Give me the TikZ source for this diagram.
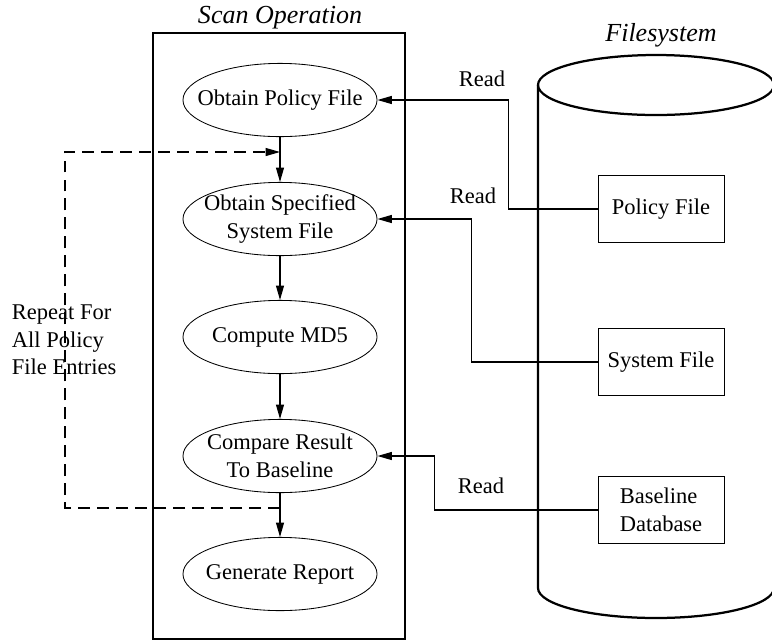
\documentclass[tikz,border=0pt]{standalone}
\usepackage{fontspec}
\setmainfont{Liberation Serif}
\usetikzlibrary{arrows.meta, shapes.geometric}
\pgfdeclarelayer{bg}
\pgfsetlayers{bg,main}
\tikzset{every picture/.append style={x=0.025cm, y=-0.025cm}}
\tikzset{
    proc/.style={ellipse, draw, line width=.6pt, minimum width=4.85cm,
    	minimum height=1.83cm, inner xsep=-0.5cm, inner ysep=0pt, align=center,
    	font=\fontsize{16}{20}\selectfont},
    store/.style={rectangle, draw, line width=.6pt, minimum width=3.15cm,
    	minimum height=1.68cm, align=center, font=\fontsize{16}{20}\selectfont},
    txt/.style={font=\fontsize{16}{19.5}\selectfont},
    heading/.style={font=\fontsize{18.5}{22}\selectfont\itshape},
    flow/.style={-{Triangle[length=3.6mm, width=2mm]}, line width=.8pt},
    thickline/.style={line width=1.6pt}
}

\begin{document}
\begin{tikzpicture}
  \useasboundingbox (0,0) rectangle (772,641);

  \node (sctitle) [heading] at (280, 18) {Scan Operation};
  \node (fstitle) [heading] at (661, 35) {Filesystem};

  \node (e1) [proc] at (280, 100) {Obtain Policy File};
  \node (e2) [proc] at (280, 219) {Obtain Specified\\System File};
  \node (e3) [proc] at (280, 337) {Compute MD5};
  \node (e4) [proc] at (280, 456) {Compare Result\\To Baseline};
  \node (e5) [proc] at (280, 574) {Generate Report};

  \node (pf) [store] at (661, 209) {Policy File};
  \node (sf) [store] at (661, 362) {System File};
  \node (bd) [store, align=left] at (661, 510) {Baseline\\Database};

  \node (r1) [txt] at (482, 79) {Read};
  \node (r2) [txt] at (473, 196) {Read};
  \node (r3) [txt] at (481, 486) {Read};
  \node (rep) [txt, anchor=west, align=left] at (7, 340)
  	{Repeat For\\All Policy\\File Entries};

  \coordinate (ltop) at (280, 152);
  \coordinate (lbot) at (280, 508);

  \begin{pgfonlayer}{bg}
	  % scan box and filesystem drum
	  \draw[thickline] (153, 33) rectangle (405, 639);
	  \draw[thickline] (656, 85) ellipse [x radius=118, y radius=30];
	  \draw[thickline] (538, 85) -- (538, 588)
	  	arc[start angle=180, end angle=0, x radius=118, y radius=30] -- (774, 85);
  \end{pgfonlayer}

  \draw[flow] (e1) -- (e2); \draw[flow] (e2) -- (e3);
  \draw[flow] (e3) -- (e4); \draw[flow] (e4) -- (e5);
  \draw[flow] (pf.west) -- ++(-89, 0) |- (e1.east);
  \draw[flow] (sf.west) -- ++(-126, 0) |- (e2.east);
  \draw[flow] (bd.west) -- ++(-163, 0) |- (e4.east);
  \draw[flow, dash pattern=on 8.5pt off 5pt] (lbot) -- ++(-215, 0) |- (ltop);

\end{tikzpicture}
\end{document}
